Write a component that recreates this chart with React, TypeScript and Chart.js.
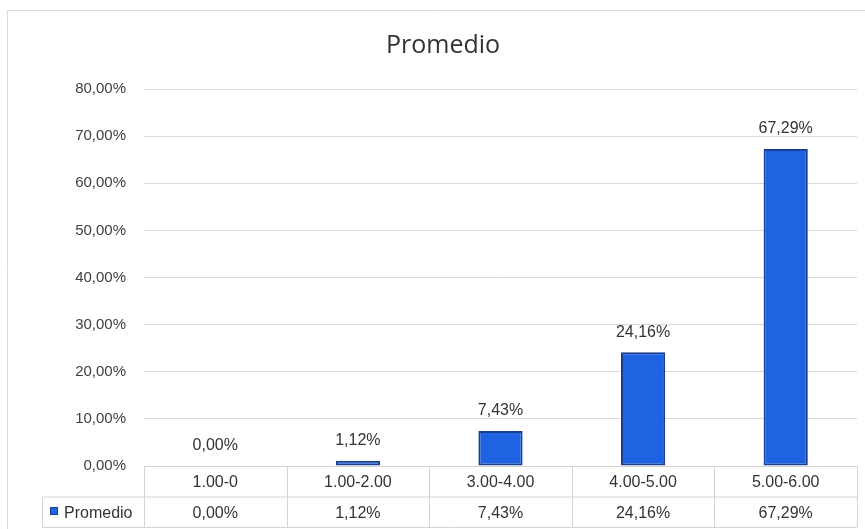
import React, { useEffect, useRef } from "react";
import { Chart, registerables } from "chart.js";

Chart.register(...registerables);

const categories = ["1.00-0", "1.00-2.00", "3.00-4.00", "4.00-5.00", "5.00-6.00"];
const seriesName = "Promedio";
const chartTitle = "Promedio";
const values = [0, 1.12, 7.43, 24.16, 67.29];
const yTicks = [0, 10, 20, 30, 40, 50, 60, 70, 80];

const fmt = (v: number) => v.toFixed(2).replace(".", ",") + "%";

const FILL = "#1f63e3";
const EDGE = "#183f92";
const TEXT = "#333333";
const LINE = "#d4d4d4";

const tablePlugin = {
  id: "dataTable",
  afterDraw(chart: any) {
    const ctx = chart.ctx;
    const x = chart.scales.x;
    const area = chart.chartArea;
    const n = categories.length;
    const step = (area.right - area.left) / n;
    const top = Math.round(area.bottom) + 0.5;
    const row = 30.5;
    const mid = top + row;
    const bot = mid + row;
    const legendLeft = 42.5;
    ctx.save();
    // title
    ctx.fillStyle = TEXT;
    ctx.font = "25px 'Open Sans'";
    ctx.textAlign = "center";
    ctx.textBaseline = "middle";
    ctx.fillText(chartTitle, 443, 46);
    // outer frame
    ctx.strokeStyle = "#d9d9d9";
    ctx.lineWidth = 1;
    ctx.beginPath();
    ctx.moveTo(7.5, chart.height + 2);
    ctx.lineTo(7.5, 10.5);
    ctx.lineTo(chart.width + 2, 10.5);
    ctx.stroke();

    ctx.strokeStyle = LINE;
    ctx.beginPath();
    ctx.moveTo(area.left, top);
    ctx.lineTo(area.right, top);
    ctx.moveTo(legendLeft, mid);
    ctx.lineTo(area.right, mid);
    ctx.moveTo(legendLeft, bot);
    ctx.lineTo(area.right, bot);
    ctx.moveTo(legendLeft, mid);
    ctx.lineTo(legendLeft, bot);
    for (let i = 0; i <= n; i++) {
      const px = Math.round(area.left + i * step) + 0.5;
      ctx.moveTo(px, top);
      ctx.lineTo(px, bot);
    }
    ctx.stroke();

    ctx.fillStyle = TEXT;
    ctx.font = "16px 'Liberation Sans'";
    ctx.textAlign = "center";
    ctx.textBaseline = "middle";
    for (let i = 0; i < n; i++) {
      const cx = x.getPixelForValue(i);
      ctx.fillText(categories[i], cx, (top + mid) / 2 + 1);
      ctx.fillText(fmt(values[i]), cx, (mid + bot) / 2 + 1);
    }
    // legend cell
    ctx.fillStyle = FILL;
    ctx.fillRect(50, 507, 8, 8);
    ctx.strokeStyle = EDGE;
    ctx.strokeRect(50.5, 507.5, 7, 7);
    ctx.fillStyle = TEXT;
    ctx.textAlign = "left";
    ctx.fillText(seriesName, 64, (mid + bot) / 2 + 1);
    ctx.restore();
  },
};

const labelPlugin = {
  id: "barLabels",
  afterDatasetsDraw(chart: any) {
    const ctx = chart.ctx;
    const meta = chart.getDatasetMeta(0);
    ctx.save();
    ctx.fillStyle = TEXT;
    ctx.font = "16px 'Liberation Sans'";
    ctx.textAlign = "center";
    ctx.textBaseline = "middle";
    meta.data.forEach((bar: any, i: number) => {
      ctx.fillText(fmt(values[i]), bar.x, bar.y - 20);
    });
    ctx.restore();
  },
};

export default function App() {
  const ref = useRef<HTMLCanvasElement>(null);
  useEffect(() => {
    if (!ref.current) return;
    const chart = new Chart(ref.current, {
      type: "bar",
      data: {
        labels: categories,
        datasets: [
          {
            label: seriesName,
            data: values,
            backgroundColor: FILL,
            borderColor: EDGE,
            borderWidth: 2,
            borderSkipped: false,
            barPercentage: 0.31,
            categoryPercentage: 1,
          },
        ],
      },
      options: {
        responsive: false,
        animation: false,
        layout: { padding: { left: 0, right: 8, bottom: 63, top: 89 } },
        plugins: {
          legend: { display: false },
          tooltip: { enabled: false },
          title: { display: false },
        },
        scales: {
          x: { display: false },
          y: {
            min: yTicks[0],
            max: yTicks[yTicks.length - 1],
            afterBuildTicks: (s: any) => {
              s.ticks = yTicks.map((v) => ({ value: v }));
            },
            afterFit: (s: any) => {
              s.width = 144;
            },
            border: { display: false },
            grid: { color: "#d9d9d9", drawTicks: false, lineWidth: 1 },
            ticks: {
              padding: 18,
              color: "#404040",
              font: { family: "'Liberation Sans'", size: 15 },
              callback: (v: any) => fmt(Number(v)),
            },
          },
        },
      },
      plugins: [labelPlugin, tablePlugin],
    });
    return () => chart.destroy();
  }, []);
  return (
    <canvas
      ref={ref}
      width={865}
      height={529}
      style={{ position: "absolute", left: 0, top: 0, width: 865, height: 529, background: "#fff" }}
    />
  );
}
